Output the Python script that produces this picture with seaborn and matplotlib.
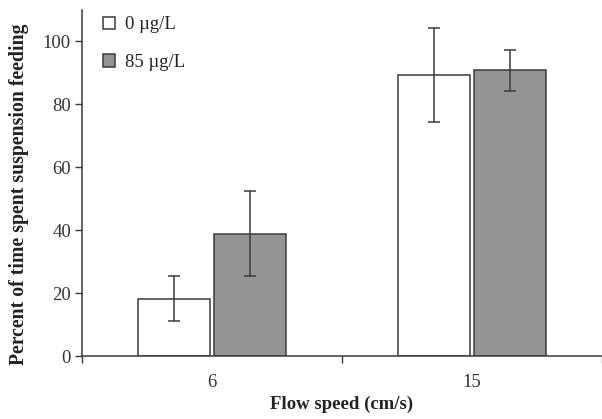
import matplotlib
matplotlib.use("Agg")
import matplotlib.pyplot as plt
import seaborn as sns
import pandas as pd
import numpy as np

flow_speeds = ["6", "15"]
concentrations = ["0 \u00b5g/L", "85 \u00b5g/L"]
means_0 = [18.2, 89.3]
means_85 = [38.8, 90.8]
err_0 = [7.1, 14.9]
err_85 = [13.5, 6.6]
y_ticks = [0, 20, 40, 60, 80, 100]

df = pd.DataFrame({
    "flow": flow_speeds * 2,
    "conc": [concentrations[0]] * 2 + [concentrations[1]] * 2,
    "pct": means_0 + means_85,
})
errs = {concentrations[0]: err_0, concentrations[1]: err_85}

sns.set_theme(style="white")
plt.rcParams["font.family"] = ["Liberation Serif", "DejaVu Serif"]

fig = plt.figure(figsize=(6.02, 4.19), dpi=100)
ax = fig.add_axes([82 / 602, (419 - 356) / 419, 1 - 82 / 602, (356 - 10) / 419])

edge = "#3a3a3a"
palette = {concentrations[0]: "#ffffff", concentrations[1]: "#929497"}
sns.barplot(data=df, x="flow", y="pct", hue="conc", order=flow_speeds,
            hue_order=concentrations, palette=palette, width=0.58, gap=0.045,
            edgecolor=edge, linewidth=1.1, errorbar=None, ax=ax)

for cont, conc in zip(ax.containers, concentrations):
    xs = [b.get_x() + b.get_width() / 2 for b in cont]
    hs = [b.get_height() for b in cont]
    ax.errorbar(xs, hs, yerr=errs[conc], fmt="none", ecolor=edge,
                elinewidth=1.1, capsize=4, capthick=1.1, zorder=5)

ax.set_xlim(-0.5, 1.5)
ax.set_ylim(0, 110)
ax.set_yticks(y_ticks)
ax.set_xticks([-0.5, 0.5, 1.5])
ax.set_xticklabels(["", "", ""])
ax.set_xticks([0, 1], minor=True)
ax.set_xticklabels(flow_speeds, minor=True)
ax.tick_params(axis="x", which="major", direction="out", length=5, width=1, color=edge, bottom=True)
ax.tick_params(axis="x", which="minor", length=0, pad=13, labelsize=13.5, labelcolor="#333333")
ax.tick_params(axis="y", direction="out", length=5, width=1, color=edge, left=True,
               labelsize=13.5, labelcolor="#333333", pad=3)

for s in ["top", "right"]:
    ax.spines[s].set_visible(False)
for s in ["left", "bottom"]:
    ax.spines[s].set_color(edge)
    ax.spines[s].set_linewidth(1.1)

ax.set_xlabel("Flow speed (cm/s)", fontsize=13.5, fontweight="bold", color="#222222", labelpad=3)
ax.set_ylabel("Percent of time spent suspension feeding", fontsize=14.2, fontweight="bold",
              color="#222222")
ax.yaxis.set_label_coords(-53 / 520, (356 - 194) / 346)

handles, labels = ax.get_legend_handles_labels()
ax.legend(handles, labels, loc="upper left", bbox_to_anchor=(0.008, 1.03), frameon=False,
          handlelength=0.65, handleheight=0.65, labelspacing=1.1, handletextpad=0.5,
          fontsize=13.5, labelcolor="#222222")

fig.savefig("out.png", dpi=100)
